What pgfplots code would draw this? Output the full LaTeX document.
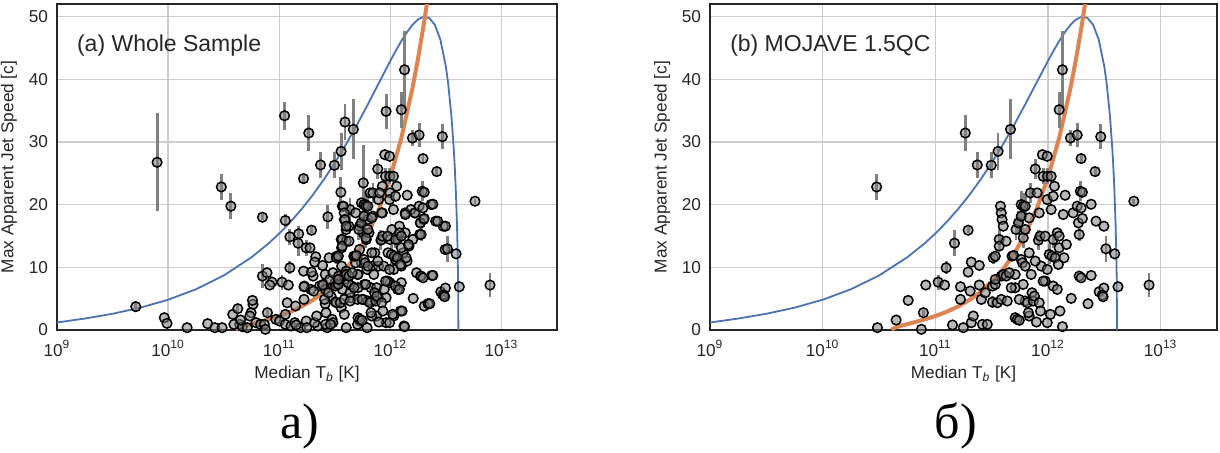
\documentclass[border=0pt]{standalone}
\usepackage{fontspec}
\setmainfont{Liberation Sans}
\newfontfamily\capfont{Liberation Serif}
\usepackage{pgfplots}
\usepackage{pgfplotstable}
\pgfplotsset{compat=1.18}
\definecolor{sbblue}{HTML}{4C72B0}
\definecolor{sborange}{HTML}{DD8452}
\definecolor{gridgray}{HTML}{CCCCCC}
\definecolor{errgray}{HTML}{808080}

% MOJAVE 1.5QC subsample (log10 Tb, beta_app, error)
\pgfplotstableread{
u y e
10.479 22.82 2.1
11.266 31.42 2.9
11.372 26.33 2.1
11.496 26.27 2.1
11.557 28.50 2.9
11.667 32.01 4.8
12.099 35.14 2.9
12.128 41.51 6.2
12.199 30.63 1.3
12.259 31.10 1.9
12.468 30.84 2.0
12.294 27.34 0.8
12.418 25.27 0.8
12.762 20.54 0.4
12.897 7.17 1.9
12.592 12.15 0
12.621 6.90 0
11.170 13.85 2.1
11.291 15.92 0.5
11.096 9.93 1.0
11.025 7.64 1.2
11.082 7.17 0
10.915 7.17 0
10.759 4.72 0
10.894 2.76 0.5
10.652 1.59 0
10.486 0.37 0
10.876 0.11 0
11.152 0.80 0
11.248 0.37 0
11.319 1.17 0
11.337 2.23 0
11.418 0.90 0
11.461 0.90 0
11.223 6.90 0
11.223 4.88 0
11.291 9.24 0
11.319 10.83 0
11.390 10.30 0
11.309 6.21 0
11.390 7.17 0
11.408 4.88 0
11.443 5.94 0
11.514 11.52 1.0
11.532 11.78 0
11.507 7.01 0
11.532 7.27 0
11.507 4.46 1.0
11.550 4.35 0
11.585 4.88 0
11.567 14.44 1.6
11.578 19.75 0
11.585 18.68 0
11.592 17.62 0
11.603 16.56 0
11.567 13.38 0
11.585 8.60 0
11.603 8.86 0
11.628 8.60 0
11.628 14.17 0
11.638 4.62 0
11.681 11.78 0
11.695 11.89 0
11.709 8.86 0
11.709 6.74 0
11.709 1.96 0
11.727 1.70 0
11.745 1.54 0
11.716 16.03 1.6
11.738 17.09 1.9
11.762 20.01 2.1
11.780 19.75 2.1
11.798 19.75 2.1
11.762 18.15 1.9
11.780 14.70 1.6
11.798 16.03 0
11.762 11.25 0
11.773 10.72 0
11.798 10.19 0
11.833 12.31 0
11.780 7.27 0
11.798 4.62 0
11.816 4.35 0
11.833 2.23 0
11.844 21.87 1.6
11.833 17.89 0
11.851 8.86 0
11.858 5.94 0
11.869 4.62 0
11.879 5.41 0
11.887 25.69 1.6
11.904 21.87 0
11.915 14.33 1.6
11.922 18.68 0
11.897 1.27 0
11.922 4.35 0
11.933 3.03 0
11.929 14.97 0
11.940 10.19 0
11.950 27.97 0
11.957 24.52 1.3
11.975 14.97 0
11.975 7.80 0
11.993 27.71 0
11.993 20.81 0
11.993 1.17 0
11.996 24.52 1.3
12.011 12.05 1.6
12.021 2.49 0
12.028 24.52 0
12.028 19.21 0
12.035 11.78 0
12.046 14.44 1.3
12.046 7.01 0
12.046 21.34 0
12.057 22.93 0
12.064 11.52 0
12.082 15.50 0
12.082 6.48 0
12.092 10.46 0
12.099 14.97 0
12.099 13.11 0
12.106 3.03 0
12.128 0.53 0
12.135 18.42 0
12.142 11.52 0
12.163 13.64 0
12.152 21.50 0
12.206 5.04 0
12.223 18.68 0
12.259 19.75 0
12.270 17.09 0
12.277 15.23 1.0
12.277 8.60 0
12.294 8.33 0
12.294 19.48 0
12.287 22.13 1.6
12.305 21.97 0
12.305 17.78 0
12.355 4.19 0
12.383 20.06 0
12.383 8.70 0
12.426 17.36 0
12.454 6.10 0
12.496 16.56 0
12.496 6.69 0
12.482 5.57 0
12.489 5.31 0
12.514 12.95 2.1
11.674 6.74 0
11.826 2.76 0
11.745 4.88 0
11.957 7.80 0
11.887 10.99 0
11.993 9.66 0
11.656 9.13 0
11.532 8.07 0
}\tabB

% additional sources of the whole sample
\pgfplotstableread{
u y e
9.709 3.72 0.9
9.901 26.75 7.8
9.966 1.96 0
9.990 1.06 0
10.171 0.37 0
10.356 1.01 0
10.421 0.37 0
10.565 19.75 2.1
10.582 2.49 0
10.627 3.40 0.8
10.644 0.90 0
10.668 0.53 0
10.712 0.37 0
10.764 4.09 0
10.747 2.76 0
10.736 2.23 0
10.849 17.99 0.5
10.849 8.60 1.9
10.890 9.13 0
10.935 7.64 0
10.791 1.17 0
10.832 0.90 0
10.969 1.70 0
11.003 1.43 0
11.055 0.90 0
11.048 34.18 2.2
11.055 17.46 1.0
11.096 14.86 1.3
11.072 4.35 0
11.055 2.49 0
11.147 3.82 0
11.175 15.34 1.3
11.219 24.15 0.8
11.243 13.11 1.3
11.219 9.39 0
11.226 7.01 0
11.243 1.43 0
11.277 13.11 0
11.329 11.68 0
11.305 8.60 0
11.284 6.48 0
11.363 7.01 0
11.414 8.86 0
11.397 7.27 0
11.438 18.05 1.9
11.414 4.19 0
11.421 2.76 0
11.449 11.52 0
11.476 1.70 0
11.500 7.54 0
11.517 7.27 0
11.555 21.97 2.4
11.568 19.75 0
11.592 33.17 2.9
11.586 17.62 0
11.603 16.03 0
11.627 16.56 0
11.637 19.21 1.9
11.558 14.44 0
11.603 14.17 0
11.562 13.11 0
11.517 11.78 0
11.562 10.19 0
11.603 9.39 0
11.586 8.07 0
11.568 6.48 0
11.647 5.15 0
11.558 3.56 0
11.586 2.49 0
11.671 11.78 0
11.705 8.86 0
11.654 7.01 0
11.757 23.46 6.0
11.740 20.28 0
11.774 20.01 0
11.798 17.62 0
11.757 15.50 0
11.784 14.44 0
11.818 21.87 0
11.842 18.15 0
11.740 10.72 0
11.791 9.66 0
11.842 10.19 0
11.767 7.27 0
11.825 6.74 0
11.877 6.74 0
11.757 4.88 0
11.832 4.62 0
11.894 5.15 0
11.723 1.43 0
11.877 2.23 0
11.962 1.17 0
11.962 34.87 2.8
11.928 18.68 0
11.921 14.44 0
11.997 14.44 0
12.065 14.44 0
12.134 15.50 0
12.219 18.68 0
12.271 17.09 0
12.264 15.23 0
12.298 17.62 0
12.048 11.25 0
12.099 10.19 0
12.151 10.99 0
12.031 9.66 0
11.997 7.54 0
12.065 6.48 0
12.099 7.54 0
12.031 2.23 0
12.092 3.03 0
12.123 0.64 0
12.305 3.82 0
12.339 4.19 0
12.271 8.60 0
12.366 20.01 0
12.408 17.36 0
12.476 16.56 0
12.493 12.84 0
12.469 5.68 0
12.373 8.70 0
10.592 0.90 0
10.866 0.90 0
11.106 0.64 0
11.140 1.17 0
11.192 0.37 0
11.346 0.64 0
11.432 0.37 0
11.603 0.37 0
11.705 0.90 0
11.791 0.37 0
11.483 1.17 0
11.455 8.07 0
11.483 9.13 0
11.534 8.60 0
11.414 6.48 0
11.466 5.41 0
11.517 4.35 0
11.620 7.54 0
11.637 5.94 0
11.705 4.88 0
11.688 10.72 0
11.723 12.84 0
11.860 12.31 0
11.894 10.19 0
11.945 6.48 0
11.962 5.15 0
11.979 12.31 0
12.014 16.03 0
12.082 16.56 0
12.116 12.31 0
12.168 13.38 0
11.723 16.56 0
11.688 18.68 0
11.808 15.50 0
11.894 20.81 0
11.928 22.93 0
11.997 21.87 0
12.134 18.68 0
12.185 19.21 0
12.202 14.44 0
12.236 9.13 0
}\tabA

\pgfplotstableread{
u y
9.0 1.200
9.25 1.826
9.5 2.590
9.75 3.563
10.0 4.830
10.25 6.495
10.5 8.691
10.75 11.59
10.9 13.75
11.0 15.39
11.1 17.22
11.2 19.25
11.3 21.49
11.4 23.96
11.5 26.66
11.6 29.59
11.7 32.74
11.8 36.07
11.9 39.51
12.0 42.93
12.05 44.57
12.1 46.12
12.15 47.51
12.2 48.69
12.25 49.55
12.3 49.97
12.35 49.78
12.4 48.70
12.45 46.35
12.5 42.0
12.52 39.4
12.55 34.13
12.57 29.1
12.58 26.0
12.59 22.0
12.6 16.75
12.605 13.18
12.61 7.91
12.6128 0
}\tabBlue

\pgfplotstableread{
u y
10.6128 0
10.62 0.18
10.65 0.43
10.7 0.70
10.8 1.17
10.9 1.66
11.0 2.23
11.1 2.90
11.2 3.73
11.3 4.76
11.4 6.05
11.5 7.65
11.6 9.66
11.7 12.18
11.8 15.36
11.9 19.35
12.0 24.37
12.1 30.69
12.2 38.65
12.25 43.36
12.3 48.65
12.33 52.13
}\tabOrange

\pgfplotsset{
  panel/.style={
    scale only axis, height=163pt,
    xmin=9, xmax=13.5, ymin=0, ymax=52,
    xtick={9,10,11,12,13},
    xticklabels={10\textsuperscript{9},10\textsuperscript{10},10\textsuperscript{11},10\textsuperscript{12},10\textsuperscript{13}},
    ytick={0,10,20,30,40,50}, yticklabels={0,10,20,30,40,50},
    grid=major, major grid style={gridgray, line width=0.65pt},
    axis line style={black!85, line width=0.8pt},
    major tick length=0pt,
    tick label style={font=\fontsize{8.6}{10}\selectfont, text=black!85},
    xticklabel style={yshift=-1.5pt},
    yticklabel style={xshift=-1pt},
    xlabel={Median T\textsubscript{\textit{b}} [K]},
    ylabel={Max Apparent Jet Speed [c]},
    label style={font=\fontsize{8.6}{10}\selectfont, text=black!85},
    xlabel style={yshift=2pt},
    ylabel style={yshift=-1pt},
  },
  pts/.style={only marks, mark=*, mark size=2.4pt,
    mark options={draw=black, fill=gray, fill opacity=0.55, line width=0.75pt},
    error bars/.cd, y dir=both, y explicit, error mark=none,
    error bar style={errgray, line width=1.4pt}},
}

\begin{document}
\begin{tikzpicture}
\useasboundingbox (0,0) rectangle (610pt,226pt);
\begin{axis}[panel, width=250pt, at={(28.5pt,61pt)}, anchor=south west]
  \addplot[sbblue, line width=0.9pt] table[x=u,y=y]{\tabBlue};
  \addplot[sborange, line width=2pt, line join=round] table[x=u,y=y]{\tabOrange};
  \addplot[pts] table[x=u,y=y,y error=e]{\tabA};
  \addplot[pts] table[x=u,y=y,y error=e]{\tabB};
  \node[anchor=west, font=\fontsize{11.5}{13}\selectfont, text=black!85] at (rel axis cs:0.026,0.874) {(a) Whole Sample};
\end{axis}
\begin{axis}[panel, width=253.5pt, at={(355pt,61pt)}, anchor=south west]
  \addplot[sbblue, line width=0.9pt] table[x=u,y=y]{\tabBlue};
  \addplot[sborange, line width=2pt, line join=round] table[x=u,y=y]{\tabOrange};
  \addplot[pts] table[x=u,y=y,y error=e]{\tabB};
  \node[anchor=west, font=\fontsize{11.5}{13}\selectfont, text=black!85] at (rel axis cs:0.026,0.874) {(b) MOJAVE 1.5QC};
\end{axis}
\node[font=\capfont\fontsize{25}{29}\selectfont] at (150pt,13pt) {а)};
\node[font=\capfont\fontsize{25}{29}\selectfont] at (478pt,13pt) {б)};
\end{tikzpicture}
\end{document}
